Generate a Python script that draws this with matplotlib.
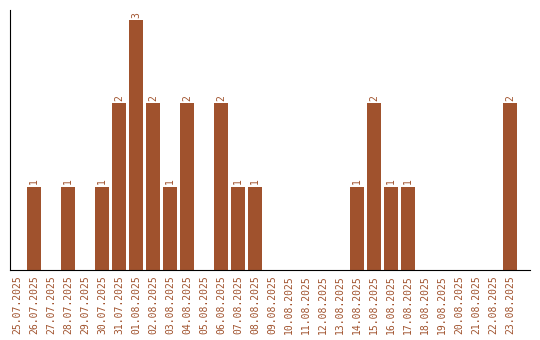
import matplotlib.pyplot as plt

dates = ['25.07.2025', '26.07.2025', '27.07.2025', '28.07.2025', '29.07.2025',
         '30.07.2025', '31.07.2025', '01.08.2025', '02.08.2025', '03.08.2025',
         '04.08.2025', '05.08.2025', '06.08.2025', '07.08.2025', '08.08.2025',
         '09.08.2025', '10.08.2025', '11.08.2025', '12.08.2025', '13.08.2025',
         '14.08.2025', '15.08.2025', '16.08.2025', '17.08.2025', '18.08.2025',
         '19.08.2025', '20.08.2025', '21.08.2025', '22.08.2025', '23.08.2025']
counts = [0, 1, 0, 1, 0, 1, 2, 3, 2, 1, 2, 0, 2, 1, 1,
          0, 0, 0, 0, 0, 1, 2, 1, 1, 0, 0, 0, 0, 0, 2]

color = '#A0522D'

fig = plt.figure(figsize=(5.4, 3.4), dpi=100)
ax = fig.add_axes([10 / 540, 70 / 340, 520 / 540, 260 / 340])

x = list(range(len(dates)))
bars = ax.bar(x, counts, width=0.8, color=color)

for xi, c in zip(x, counts):
    if c > 0:
        ax.text(xi, c + 0.03, str(c), rotation=90, ha='center', va='bottom',
                fontsize=7, color=color, family='DejaVu Sans Mono')

ax.set_xlim(-0.41, 30.18)
ax.set_ylim(0, 3.12)
ax.set_xticks(x)
ax.set_xticklabels(dates, rotation=90, fontsize=7, color=color, family='DejaVu Sans Mono')
ax.tick_params(axis='x', length=0, pad=4)
ax.set_yticks([])
ax.spines['top'].set_visible(False)
ax.spines['right'].set_visible(False)

fig.savefig('out.png', dpi=100)
